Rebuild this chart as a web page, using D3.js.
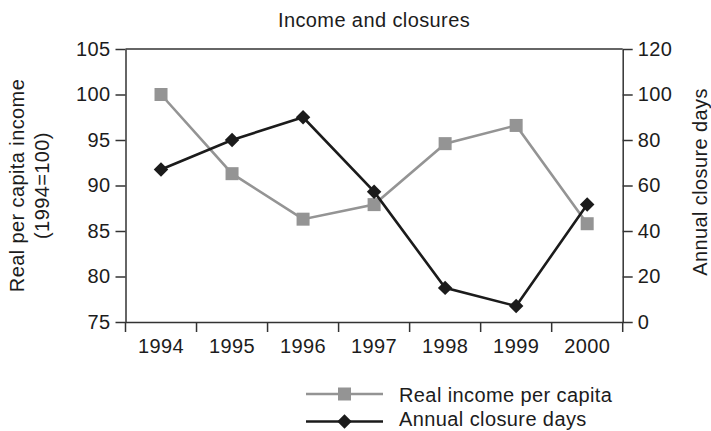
<!DOCTYPE html>
<html><head><meta charset="utf-8">
<script src="https://cdn.jsdelivr.net/npm/d3@7"></script>
<style>
body{margin:0;background:#fff;}
text{font-family:"Liberation Sans",Arial,Helvetica,sans-serif;fill:#1c1c1c;}
</style></head><body>
<svg id="c" width="711" height="431"></svg>
<script>
const years = ["1994","1995","1996","1997","1998","1999","2000"];
const income = [100, 91.3, 86.3, 87.9, 94.6, 96.6, 85.8];
const closures = [67, 80, 90, 57.3, 15, 7, 51.7];
const leftTicks = [75,80,85,90,95,100,105];
const rightTicks = [0,20,40,60,80,100,120];
const title = "Income and closures";
const seriesNames = ["Real income per capita","Annual closure days"];

const svg = d3.select("#c");
const m = {l:125.5, r:622.7, t:49, b:322};
const fs = 20;
const x = d3.scaleBand().domain(years).range([m.l, m.r]);
const yL = d3.scaleLinear().domain([75,105]).range([m.b, m.t]);
const yR = d3.scaleLinear().domain([0,120]).range([m.b, m.t]);
const axisCol = "#333";

function style(g){
  g.selectAll("path,line").attr("stroke", axisCol).attr("stroke-width",1.5);
  g.selectAll("text").attr("font-size", fs).attr("fill","#1c1c1c").attr("font-family","Liberation Sans, Arial, sans-serif").style("letter-spacing","0.4px");
}
// top border
svg.append("line").attr("x1",m.l).attr("x2",m.r).attr("y1",m.t).attr("y2",m.t).attr("stroke",axisCol).attr("stroke-width",1.5);

const gL = svg.append("g").attr("transform",`translate(${m.l},0)`)
  .call(d3.axisLeft(yL).tickValues(leftTicks).tickSize(10).tickSizeOuter(0).tickPadding(5));
style(gL);
const gR = svg.append("g").attr("transform",`translate(${m.r},0)`)
  .call(d3.axisRight(yR).tickValues(rightTicks).tickSize(10).tickSizeOuter(0).tickPadding(5));
style(gR);
const gX = svg.append("g").attr("transform",`translate(0,${m.b})`)
  .call(d3.axisBottom(x).tickSize(0).tickPadding(17));
style(gX);
// band boundary ticks
const bounds = years.map(d=>x(d)).concat([m.r]);
gX.selectAll(".bt").data(bounds).enter().append("line")
  .attr("x1",d=>d).attr("x2",d=>d).attr("y1",0).attr("y2",10)
  .attr("stroke",axisCol).attr("stroke-width",1.5);

const cx = d => x(d) + x.bandwidth()/2;
const gray = "#949494", black = "#1b1b1b";

// income series
svg.append("path").datum(income)
  .attr("d", d3.line().x((d,i)=>cx(years[i])).y(d=>yL(d)))
  .attr("fill","none").attr("stroke",gray).attr("stroke-width",2.6);
svg.selectAll(".sq").data(income).enter().append("rect")
  .attr("x",(d,i)=>cx(years[i])-6.5).attr("y",d=>yL(d)-6.5)
  .attr("width",13).attr("height",13).attr("fill",gray);

// closures series
svg.append("path").datum(closures)
  .attr("d", d3.line().x((d,i)=>cx(years[i])).y(d=>yR(d)))
  .attr("fill","none").attr("stroke",black).attr("stroke-width",2.6);
svg.selectAll(".dm").data(closures).enter().append("path")
  .attr("d", d3.symbol().type(d3.symbolSquare).size(105))
  .attr("transform",(d,i)=>`translate(${cx(years[i])},${yR(d)}) rotate(45)`)
  .attr("fill",black);

// title
svg.append("text").attr("x",374).attr("y",27).attr("text-anchor","middle")
  .attr("font-size",fs).style("letter-spacing","0.4px").text(title);

// axis titles
svg.append("text").attr("transform","translate(24,185.5) rotate(-90)")
  .attr("text-anchor","middle").attr("font-size",fs).style("letter-spacing","0.4px").text("Real per capita income");
svg.append("text").attr("transform","translate(49,185.5) rotate(-90)")
  .attr("text-anchor","middle").attr("font-size",fs).style("letter-spacing","0.4px").text("(1994=100)");
svg.append("text").attr("transform","translate(707,182) rotate(-90)")
  .attr("text-anchor","middle").attr("font-size",fs).style("letter-spacing","0.4px").text("Annual closure days");

// legend
const leg = [{y:394, c:gray, t:"sq", ty:401.5},{y:421.5, c:black, t:"dm", ty:426}];
leg.forEach((l,i)=>{
  svg.append("line").attr("x1",306).attr("x2",383).attr("y1",l.y).attr("y2",l.y)
    .attr("stroke",l.c).attr("stroke-width",2.6);
  if(l.t==="sq"){
    svg.append("rect").attr("x",344.5-6.5).attr("y",l.y-6.5).attr("width",13).attr("height",13).attr("fill",l.c);
  } else {
    svg.append("path").attr("d", d3.symbol().type(d3.symbolSquare).size(105))
      .attr("transform",`translate(344.5,${l.y}) rotate(45)`).attr("fill",l.c);
  }
  svg.append("text").attr("x",399).attr("y",l.ty)
    .attr("font-size",fs).style("letter-spacing","0.4px").text(seriesNames[i]);
});
</script>
</body></html>
